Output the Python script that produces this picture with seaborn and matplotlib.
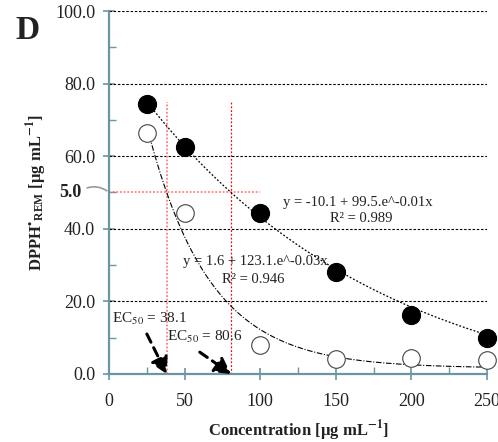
import numpy as np
import pandas as pd
import matplotlib
matplotlib.use("Agg")
import matplotlib.pyplot as plt
import seaborn as sns

# Measured remaining DPPH radical vs. extract concentration
conc = [25, 50, 100, 150, 200, 250]
dpph_a = [74.4, 62.5, 44.4, 28.1, 16.3, 9.9]   # filled markers
dpph_b = [66.4, 44.4, 8.0, 4.1, 4.4, 3.9]      # open markers

# Exponential decay fits y = c + A * exp(-k x)
fit_a = dict(c=-10.1, A=99.5, k=0.00625)
fit_b = dict(c=1.6, A=123.1, k=0.0245)
ec50_a = 80.6
ec50_b = 38.1
half_level = 50.0

yticks = [0, 20, 40, 60, 80, 100]
xticks = [0, 50, 100, 150, 200, 250]

sns.set_theme(style="white")
plt.rcParams["font.family"] = ["Liberation Serif", "DejaVu Serif"]
plt.rcParams["mathtext.fontset"] = "stix"

axis_col = "#6a95a3"
txt_col = "#222222"

fig = plt.figure(figsize=(4.98, 4.42), dpi=100)
ax = fig.add_axes([0.219, 0.154, 0.759, 0.821])

df = pd.DataFrame({"conc": conc, "a": dpph_a, "b": dpph_b})

# horizontal grid lines
for yv in yticks[1:]:
    ax.plot([0, 250], [yv, yv], color="black", lw=0.8, ls=(0, (2.2, 1.6)), zorder=1)

# EC50 guide lines
ax.plot([0, 100], [half_level, half_level], color="#ff6b6b", lw=1.1, ls=(0, (1.2, 1.2)), zorder=1)
ax.plot([ec50_b, ec50_b], [0, 75], color="#ff6b6b", lw=1.1, ls=(0, (1.2, 1.2)), zorder=1)
ax.plot([ec50_a, ec50_a], [0, 75], color="#e01010", lw=0.9, ls=(0, (1.5, 1.5)), zorder=1)

# fitted curves
xs = np.linspace(25, 250, 300)
ya = fit_a["c"] + fit_a["A"] * np.exp(-fit_a["k"] * xs)
yb = fit_b["c"] + fit_b["A"] * np.exp(-fit_b["k"] * xs)
ax.plot(xs, ya, color="black", lw=0.9, ls=(0, (1.5, 1.5)), zorder=2)
ax.plot(xs, yb, color="black", lw=0.8, ls=(0, (5, 1.5, 1, 1.5)), zorder=2)

# data points
sns.scatterplot(data=df, x="conc", y="a", ax=ax, s=170, color="black",
                edgecolor="black", linewidth=0.8, zorder=4, legend=False, clip_on=False)
sns.scatterplot(data=df, x="conc", y="b", ax=ax, s=160, facecolor="white",
                edgecolor="#444444", linewidth=0.8, zorder=4, legend=False, clip_on=False)

ax.set_xlim(0, 250)
ax.set_ylim(0, 100)
ax.set_xticks(xticks)
ax.set_xticklabels([str(v) for v in xticks])
ax.set_yticks(yticks)
ax.set_yticklabels([f"{v:.1f}" for v in yticks])
ax.set_xticks([25, 75, 125, 175, 225], minor=True)
ax.set_yticks([10, 30, 50, 70, 90], minor=True)
ax.tick_params(axis="both", which="major", direction="inout", length=8, width=1.2,
               color=axis_col, labelsize=13, labelcolor=txt_col, pad=6, left=True, bottom=True)
ax.tick_params(axis="both", which="minor", direction="in", length=5, width=1.0,
               color=axis_col, left=True, bottom=True)
ax.tick_params(axis="x", pad=10)

for side in ["top", "right"]:
    ax.spines[side].set_visible(False)
for side in ["left", "bottom"]:
    ax.spines[side].set_color(axis_col)
    ax.spines[side].set_linewidth(1.6)
ax.set_facecolor("white")

sup = r"$^{\mathbf{-1}}$"
ax.set_xlabel("Concentration [µg mL" + sup + "]", fontsize=12, fontweight="bold",
              color=txt_col)
ax.xaxis.set_label_coords(0.5, -0.123)
ax.set_ylabel(r"DPPH$^{\bullet}$$_{\mathregular{REM}}$ [µg mL" + sup + "]", fontsize=12,
              fontweight="bold", color=txt_col)
ax.yaxis.set_label_coords(-0.16, 0.5)

# bold marker of the 50 level on the y axis with a leader line
ax.text(-0.072, half_level, "5.0", transform=ax.get_yaxis_transform(), ha="right",
        va="center", fontsize=13, fontweight="bold", color=txt_col)
ax.annotate("", xy=(0, half_level), xycoords=("axes fraction", "data"),
            xytext=(-0.065, half_level + 1), textcoords=("axes fraction", "data"),
            arrowprops=dict(arrowstyle="-", color="#999999", lw=1.2,
                            connectionstyle="arc3,rad=-0.3"))

# fit equations
ax.text(115, 46.3, f"y = {fit_a['c']} + {fit_a['A']}.e^-0.01x", fontsize=10.5, color=txt_col)
ax.text(146, 42.0, "R² = 0.989", fontsize=10.5, color=txt_col)
ax.text(49, 30.0, f"y = {fit_b['c']} + {fit_b['A']}.e^-0.03x", fontsize=10.5, color=txt_col)
ax.text(75, 25.0, "R² = 0.946", fontsize=10.5, color=txt_col)

# EC50 labels with arrows
ax.text(2, 14.2, f"EC$_{{50}}$ = {ec50_b}", fontsize=11, color=txt_col)
ax.text(38, 9.0, f"EC$_{{50}}$ = {ec50_a}", fontsize=11, color=txt_col)
arrow_kw = dict(arrowstyle="-|>,head_length=0.8,head_width=0.45", color="black", lw=2.2,
                ls=(0, (3, 2)), shrinkA=0, shrinkB=0)
ax.annotate("", xy=(ec50_b, 0), xytext=(25, 11), arrowprops=arrow_kw)
ax.annotate("", xy=(ec50_a, 0), xytext=(60, 6), arrowprops=arrow_kw)

fig.text(0.03, 0.93, "D", fontsize=24, fontweight="bold", color=txt_col, va="center")

fig.savefig("out.png", dpi=100, facecolor="white")
